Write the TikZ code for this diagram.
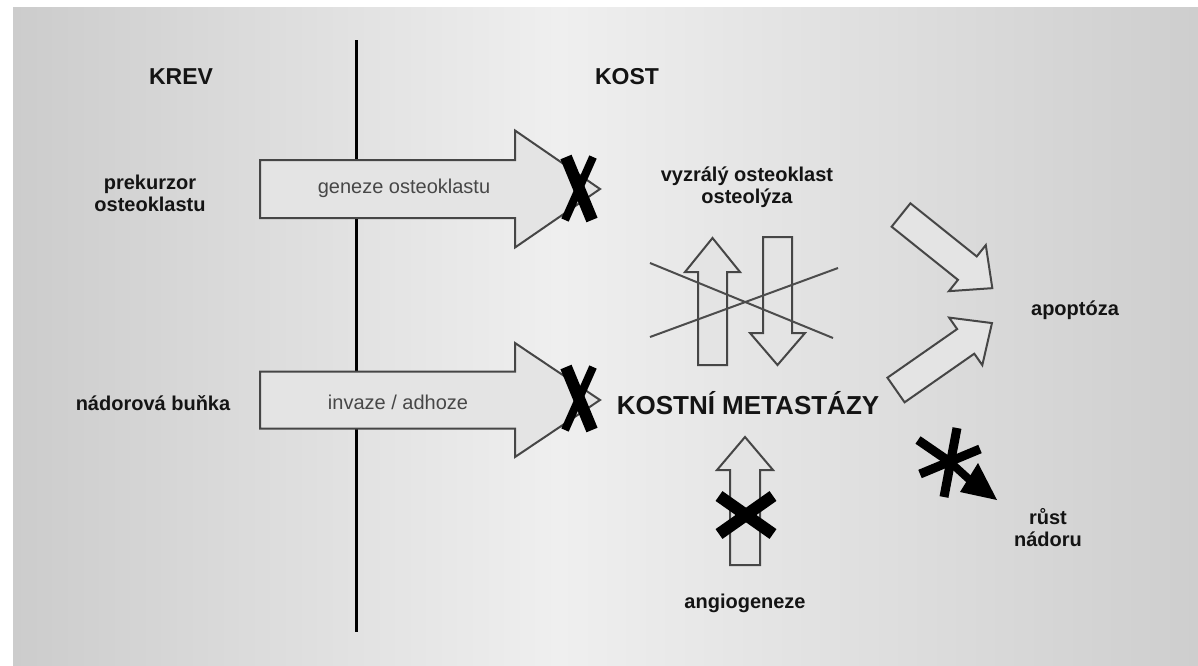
\documentclass[tikz,border=0pt]{standalone}
\usepackage{fontspec}
\setmainfont{Liberation Sans}
\definecolor{bgL}{RGB}{204,204,204}
\definecolor{bgM}{RGB}{239,239,239}
\definecolor{bgR}{RGB}{206,206,206}
\definecolor{ink}{RGB}{20,20,20}
\definecolor{arrowline}{RGB}{70,70,70}
\definecolor{arrowfill}{RGB}{228,228,228}
\pgfdeclarehorizontalshading{panel}{100bp}{color(0bp)=(bgL); color(25bp)=(bgL); color(48bp)=(bgM); color(75bp)=(bgR); color(100bp)=(bgR)}

% block arrow: tail point, direction angle, length, body half-width, head half-width, head length
\newcommand\blockarrow[6]{%
  \draw[arrowbox,shift={(#1)},rotate=#2]
    (0,-#4) -- ({#3-#6},-#4) -- ({#3-#6},-#5) -- (#3,0) -- ({#3-#6},#5)
    -- ({#3-#6},#4) -- (0,#4) -- cycle;}

\begin{document}
\begin{tikzpicture}[x=1pt,y=-1pt,
  arrowbox/.style={draw=arrowline,fill=arrowfill,line width=2pt,line join=miter},
  label/.style={font=\fontsize{20}{22}\selectfont\bfseries,text=ink,align=center,inner sep=0pt},
  heading/.style={font=\fontsize{23}{25}\selectfont\bfseries,text=ink,inner sep=0pt},
  inarrow/.style={font=\fontsize{20}{22}\selectfont,text=black!72,inner sep=0pt},
  xmark/.style={draw=black,line cap=butt},
  crossline/.style={draw=black!70,line width=2pt}]

\useasboundingbox (0,0) rectangle (1198,665);
\fill[white] (0,0) rectangle (1198,665);
\shade[shading=panel] (13,7) rectangle (1198,665);

% boundary between blood and bone
\coordinate (divtop) at (356,40);
\coordinate (divbot) at (356,632);
\draw[line width=3pt,black] (divtop) -- (divbot);

\node[heading] (krev) at (181,77) {KREV};
\node[heading] (kost) at (627,77) {KOST};

% left side labels
\node[label] (prek) at (150,193) {prekurzor\\osteoklastu};
\node[label] (nador) at (153,403) {nádorová buňka};

% wide horizontal arrows
\blockarrow{260,189}{0}{340}{29}{58.5}{85}
\node[inarrow] (geneze) at (404,188) {geneze osteoklastu};
\blockarrow{260,400}{0}{340}{28.5}{57}{85}
\node[inarrow] (invaze) at (398,402) {invaze / adhoze};

% blocking marks on the arrow tips
\draw[xmark,line width=12pt] (566,157) -- (592,220);
\draw[xmark,line width=8pt] (593,157) -- (565,220);
\draw[xmark,line width=12pt] (566,367) -- (592,430);
\draw[xmark,line width=8pt] (593,367) -- (565,430);

% osteoclast / osteolysis
\node[label] (vyzr) at (747,187) {vyzrálý osteoklast\\osteolýza};
\blockarrow{712.5,365}{90}{127}{14.5}{27.5}{34}
\blockarrow{777.5,237}{-90}{128}{14.5}{27.5}{32}
\draw[crossline] (650,263) -- (833,338);
\draw[crossline] (650,337) -- (838,268);

\node[font=\fontsize{26}{28}\selectfont\bfseries,text=ink,inner sep=0pt] (meta) at (748,403) {KOSTNÍ METASTÁZY};

% apoptosis
\blockarrow{901,215}{-38.7}{117}{15}{29.5}{32}
\blockarrow{896,390}{34.9}{117}{15}{29}{32}
\node[label] (apo) at (1075,310) {apoptóza};

% angiogenesis
\blockarrow{745,565}{90}{128}{15}{28}{33}
\draw[xmark,line width=12pt] (719,496) -- (773,534);
\draw[xmark,line width=12pt] (773,496) -- (719,534);
\node[label] (angio) at (745,603) {angiogeneze};

% tumour growth
\coordinate (star) at (950,462);
\draw[black,line width=9pt] (957,428) -- (944,497);
\draw[black,line width=9pt] (918,440) -- (star);
\draw[black,line width=9pt] (920,474) -- (980,449);
\draw[black,line width=8pt] (star) -- (972,482);
\fill[black] (997,500) -- (960,492) -- (978,463) -- cycle;
\node[label] (rust) at (1048,528) {růst\\nádoru};
\end{tikzpicture}
\end{document}
